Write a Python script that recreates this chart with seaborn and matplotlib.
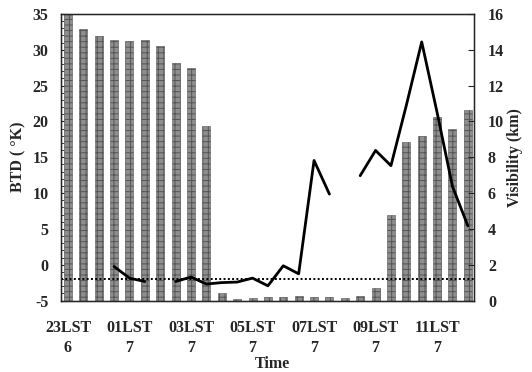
import numpy as np
import pandas as pd
import matplotlib
matplotlib.use("Agg")
import matplotlib.pyplot as plt
from matplotlib.ticker import MultipleLocator, FixedLocator
import seaborn as sns

# ---- data ----
times = ["23:00", "23:30", "00:00", "00:30", "01:00", "01:30", "02:00", "02:30",
         "03:00", "03:30", "04:00", "04:30", "05:00", "05:30", "06:00", "06:30",
         "07:00", "07:30", "08:00", "08:30", "09:00", "09:30", "10:00", "10:30",
         "11:00", "11:30", "12:00"]
btd = [35.3, 32.9, 31.9, 31.4, 31.2, 31.4, 30.6, 28.1, 27.5, 19.3,
       -3.9, -4.8, -4.6, -4.5, -4.5, -4.4, -4.5, -4.5, -4.7, -4.4,
       -3.2, 6.9, 17.1, 17.9, 20.6, 18.9, 21.6]
visibility = [np.nan, np.nan, np.nan, 1.9, 1.25, 1.06, np.nan, 1.06, 1.31, 0.92,
              1.0, 1.03, 1.25, 0.82, 1.94, 1.49, 7.82, 5.94, np.nan, 6.97,
              8.38, 7.53, 10.9, 14.44, 10.5, 6.37, 4.17]
tick_idx = [0, 4, 8, 12, 16, 20, 24]
tick_labels = ["23LST\n6", "01LST\n7", "03LST\n7", "05LST\n7", "07LST\n7", "09LST\n7", "11LST\n7"]
threshold_btd = -2.0

df = pd.DataFrame({"time": times, "btd": btd, "vis": visibility})
df["pos"] = np.arange(len(df))

sns.set_style("white")
plt.rcParams["font.family"] = ["Liberation Serif", "DejaVu Serif"]
plt.rcParams["font.weight"] = "bold"
plt.rcParams["axes.unicode_minus"] = False
plt.rcParams["hatch.linewidth"] = 0.7
plt.rcParams["hatch.color"] = "#2a2a2a"

FS = 11.5
fig = plt.figure(figsize=(5.32, 3.72), dpi=100)
ax = fig.add_axes([0.1147, 0.1922, 0.891 - 0.1147, 0.9624 - 0.1922])

bottom = -5
ax.bar(df["pos"], np.array(df["btd"]) - bottom, bottom=bottom, width=0.52,
       color="#8e8e8e", edgecolor="#555555", linewidth=0.4, hatch="+++", zorder=2)
ax.axhline(threshold_btd, color="black", linestyle=(0, (1, 1.2)), linewidth=1.4, zorder=3)

ax.set_xlim(-0.45, 26.4)
ax.set_ylim(-5, 35)
ax.yaxis.set_major_locator(MultipleLocator(5))
ax.yaxis.set_minor_locator(MultipleLocator(1))
ax.xaxis.set_major_locator(FixedLocator(tick_idx))
ax.set_xticklabels(tick_labels, linespacing=1.35)
ax.xaxis.set_minor_locator(FixedLocator(np.arange(-0.5, 27, 1.0)))
ax.tick_params(axis="x", which="major", length=0, pad=14, labelsize=FS)
ax.tick_params(axis="x", which="minor", direction="in", length=3, width=0.8)
ax.tick_params(axis="y", which="major", direction="in", length=4, width=0.8, pad=9, labelsize=FS)
ax.tick_params(axis="y", which="minor", direction="in", length=2, width=0.6)
for lbl in ax.get_xticklabels() + ax.get_yticklabels():
    lbl.set_fontweight("bold")
ax.set_ylabel("BTD ( °K)", fontsize=FS, fontweight="bold", labelpad=4)
for s in ax.spines.values():
    s.set_linewidth(1.0)
    s.set_color("black")

ax2 = ax.twinx()
ax2.plot(df["pos"], df["vis"], color="black", linewidth=2.0, zorder=4)
ax2.set_ylim(0, 16)
ax2.set_xlim(-0.45, 26.4)
ax2.yaxis.set_major_locator(MultipleLocator(2))
ax2.tick_params(axis="y", which="major", direction="in", length=4, width=0.8, pad=10, labelsize=FS)
for lbl in ax2.get_yticklabels():
    lbl.set_fontweight("bold")
ax2.set_ylabel("Visibility (km)", fontsize=FS, fontweight="bold", labelpad=2)

fig.text(0.512, 4.0 / 372, "Time", ha="center", va="baseline", fontsize=FS, fontweight="bold")

fig.savefig("out.png", dpi=100)
